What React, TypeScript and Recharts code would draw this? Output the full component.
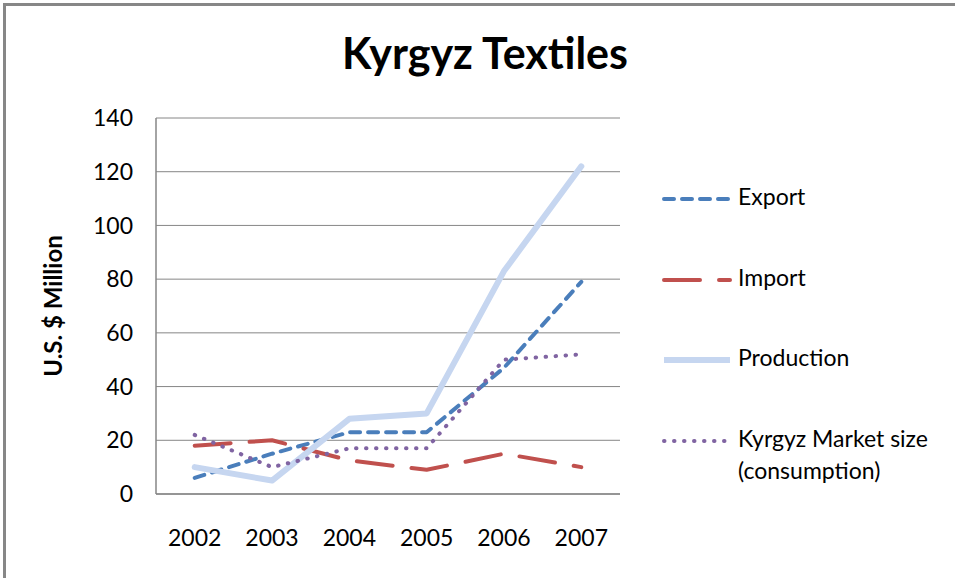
import React from "react";
import { LineChart, Line, XAxis, YAxis, CartesianGrid, Legend } from "recharts";

const years = ["2002", "2003", "2004", "2005", "2006", "2007"];
const exportVals = [6, 15, 23, 23, 47, 79];
const importVals = [18, 20, 12.5, 9, 15, 10];
const productionVals = [10, 5, 28, 30, 83, 122];
const marketVals = [22, 10, 17, 17, 50, 52];
const yTicks = [0, 20, 40, 60, 80, 100, 120, 140];

const data = years.map((y, i) => ({
  year: y,
  Export: exportVals[i],
  Import: importVals[i],
  Production: productionVals[i],
  Market: marketVals[i],
}));

const FONT = "Lato, 'Open Sans', sans-serif";

const seriesDefs = [
  { key: "Export", label: ["Export"], color: "#4A7EBB", width: 4, dash: "10 8" },
  { key: "Import", label: ["Import"], color: "#C0504D", width: 4, dash: "36 19" },
  { key: "Production", label: ["Production"], color: "#C6D6F0", width: 6, dash: undefined },
  { key: "Market", label: ["Kyrgyz Market size", "(consumption)"], color: "#8064A2", width: 4, dash: "0.5 9.5" },
];

const LegendContent = () => (
  <div style={{ fontFamily: FONT, fontSize: 23, color: "#000" }}>
    {seriesDefs.map((s, i) => (
      <div key={s.key} style={{ position: "absolute", left: 0, top: i * 80.5, height: 40 }}>
        <svg width={80} height={20} style={{ position: "absolute", left: 0, top: 9 }}>
          <line
            x1={4}
            y1={10}
            x2={70}
            y2={10}
            stroke={s.color}
            strokeWidth={s.width}
            strokeDasharray={s.dash}
            strokeLinecap={s.key === "Production" ? "butt" : "round"}
          />
        </svg>
        <div style={{ position: "absolute", left: 78, top: 0, whiteSpace: "nowrap", lineHeight: "32px" }}>
          {s.label.map((t) => (
            <div key={t}>{t}</div>
          ))}
        </div>
      </div>
    ))}
  </div>
);

export default function App() {
  return (
    <div style={{ position: "absolute", left: 0, top: 0, width: 955, height: 578, background: "#fff", overflow: "hidden" }}>
      <div
        style={{
          position: "absolute",
          left: 3,
          top: 3,
          width: 980,
          height: 600,
          borderTop: "3px solid #878787",
          borderLeft: "3px solid #878787",
        }}
      />
      <div
        style={{
          position: "absolute",
          left: 0,
          width: 970,
          top: 27,
          textAlign: "center",
          fontFamily: FONT,
          fontWeight: 700,
          fontSize: 43,
          color: "#000",
        }}
      >
        Kyrgyz Textiles
      </div>
      <LineChart
        width={955}
        height={578}
        data={data}
        margin={{ top: 118, right: 40, bottom: 0, left: 0 }}
        style={{ position: "absolute", left: 0, top: 0 }}
      >
        <CartesianGrid vertical={false} stroke="#868686" strokeWidth={1} />
        <XAxis
          dataKey="year"
          tickSize={0}
          tickMargin={36}
          padding={{ left: 38.7, right: 38.7 }}
          axisLine={{ stroke: "#868686", strokeWidth: 1.5 }}
          tick={{ fill: "#000", fontFamily: FONT, fontSize: 23 }}
          height={84}
        />
        <YAxis
          domain={[0, 140]}
          ticks={yTicks}
          width={156}
          tickSize={0}
          tickMargin={23}
          axisLine={{ stroke: "#868686", strokeWidth: 1.5 }}
          tick={{ fill: "#000", fontFamily: FONT, fontSize: 23 }}
          label={{
            value: "U.S. $ Million",
            angle: -90,
            position: "center",
            dx: -25,
            style: { fill: "#000", fontFamily: FONT, fontSize: 24, fontWeight: 700 },
          }}
        />
        <Legend
          layout="vertical"
          align="right"
          verticalAlign="top"
          width={295}
          content={<LegendContent />}
          wrapperStyle={{ left: 660, top: 180, right: "auto", width: 295, height: 320 }}
        />
        {seriesDefs.map((s) => (
          <Line
            key={s.key}
            type="linear"
            dataKey={s.key}
            stroke={s.color}
            strokeWidth={s.width}
            strokeDasharray={s.dash}
            strokeLinecap="round"
            strokeLinejoin="round"
            dot={false}
            activeDot={false}
            isAnimationActive={false}
          />
        ))}
      </LineChart>
    </div>
  );
}
